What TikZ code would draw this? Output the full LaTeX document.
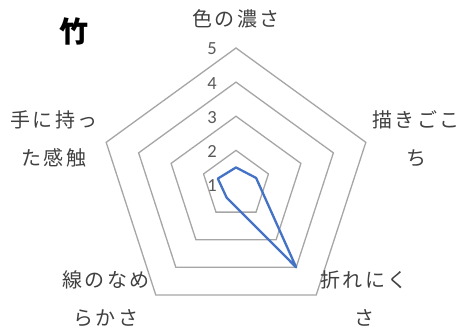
\documentclass[tikz,border=0pt]{standalone}
\usepackage{fontspec}
\setmainfont{Carlito}
\newfontfamily\jp{Noto Sans CJK JP}
\usetikzlibrary{calc}
\definecolor{gridgray}{HTML}{A6A6A6}
\definecolor{serblue}{HTML}{4472C4}
\definecolor{labgray}{HTML}{404040}
\definecolor{numgray}{HTML}{595959}
\makeatletter
\def\lsp#1{\lsp@a#1\@nil}
\def\lsp@a#1{#1\lsp@b}
\def\lsp@b#1{\ifx#1\@nil\else\kern2.5pt#1\expandafter\lsp@b\fi}
\makeatother
\tikzset{
  catlabel/.style={font=\jp\fontsize{20}{38}\selectfont, text=labgray, align=center, inner sep=0pt},
  numlabel/.style={font=\fontsize{18.5}{18.5}\selectfont, text=numgray, anchor=east, inner sep=0pt},
  ring/.style={draw=gridgray, line width=1.3pt, line join=miter},
  series/.style={draw=serblue, line width=2.3pt, line join=round}
}
\begin{document}
\begin{tikzpicture}[x=1pt,y=1pt]
\useasboundingbox (0,0) rectangle (463,-331);
\fill[white] (0,0) rectangle (463,-331);
\coordinate (c) at (236,-184.5);
\def\u{34.125}
% rings
\foreach \k in {2,3,4,5}{
  \pgfmathsetmacro\r{(\k-1)*\u}
  \draw[ring] ($(c)+(90:\r)$) -- ($(c)+(18:\r)$) -- ($(c)+(-54:\r)$) -- ($(c)+(-126:\r)$) -- ($(c)+(162:\r)$) -- cycle;
}
% value labels
\foreach \k in {1,2,3,4,5}{
  \pgfmathsetmacro\yy{-184.5+(\k-1)*\u-1}
  \node[numlabel] (n\k) at (217,\yy) {\k};
}
% data
\coordinate (p1) at ($(c)+(90:{0.50*\u})$);
\coordinate (p2) at ($(c)+(18:{0.62*\u})$);
\coordinate (p3) at ($(c)+(-54:{3.0*\u})$);
\coordinate (p4) at ($(c)+(-126:{0.47*\u})$);
\coordinate (p5) at ($(c)+(162:{0.56*\u})$);
\draw[series] (p1) -- (p2) -- (p3) -- (p4) -- (p5) -- cycle;
% category labels
\node[catlabel] (l1) at (236,-19) {\lsp{色の濃さ}};
\node[catlabel] (l2) at (416,-139) {\lsp{描きごこ}\\\lsp{ち}};
\node[catlabel] (l3) at (364,-299) {\lsp{折れにく}\\\lsp{さ}};
\node[catlabel] (l4) at (106,-299) {\lsp{線のなめ}\\\lsp{らかさ}};
\node[catlabel] (l5) at (54,-139) {\lsp{手に持っ}\\\lsp{た感触}};
% title
\node[font=\jp\bfseries\fontsize{29}{29}\selectfont, inner sep=0pt] (t) at (74,-31) {竹};
\end{tikzpicture}
\end{document}
